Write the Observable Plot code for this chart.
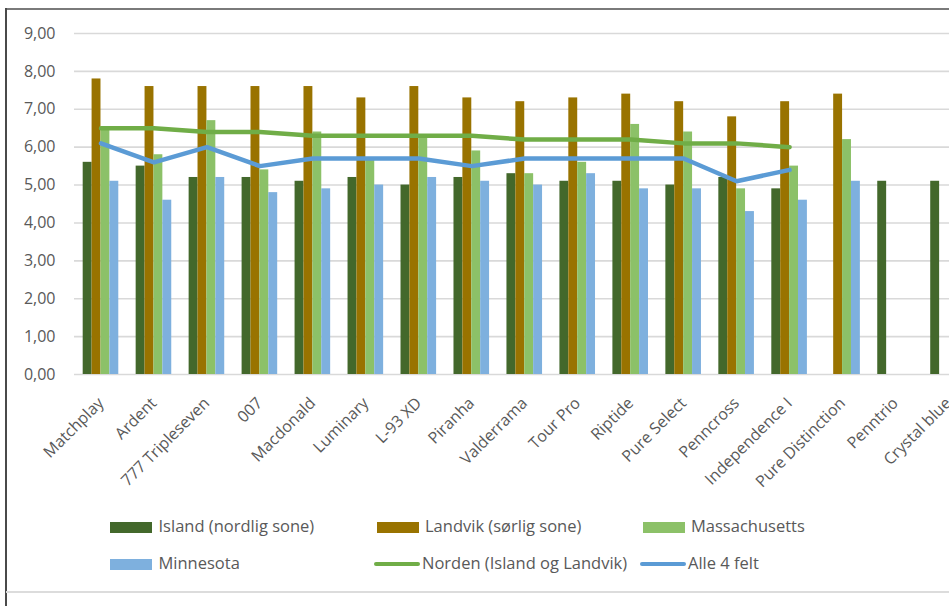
<!DOCTYPE html>
<html>
<head>
<meta charset="utf-8">
<script src="https://cdn.jsdelivr.net/npm/d3@7"></script>
<script src="https://cdn.jsdelivr.net/npm/@observablehq/plot@0.6"></script>
<style>
  html, body { margin: 0; padding: 0; background: #fff; overflow: hidden; width: 949px; height: 606px; }
  #frameTop { position: absolute; left: 5px; top: 8px; width: 1000px; height: 2px; background: #7a7a7a; }
  #frameLeft { position: absolute; left: 5px; top: 8px; width: 1.5px; height: 600px; background: #4a4a4a; }
  #frameBottom { position: absolute; left: 6px; top: 591px; width: 1000px; height: 1.5px; background: #dcdcdc; }
  #chart { position: absolute; left: 0; top: 0; width: 980px; }
  #chart svg { overflow: visible; max-width: none !important; }
  .leg { position: absolute; font-family: "Open Sans", sans-serif; font-size: 16.5px; color: #595959; white-space: nowrap; line-height: 1; }
  .sw { position: absolute; }
</style>
</head>
<body>
<div id="chart"></div>
<div id="legend"></div>
<div id="frameTop"></div>
<div id="frameLeft"></div>
<div id="frameBottom"></div>
<script>
const categories = ["Matchplay","Ardent","777 Tripleseven","007","Macdonald","Luminary","L-93 XD","Piranha","Valderrama","Tour Pro","Riptide","Pure Select","Penncross","Independence I","Pure Distinction","Penntrio","Crystal blue"];
const island        = [5.6,5.5,5.2,5.2,5.1,5.2,5.0,5.2,5.3,5.1,5.1,5.0,5.2,4.9,null,5.1,5.1];
const landvik       = [7.8,7.6,7.6,7.6,7.6,7.3,7.6,7.3,7.2,7.3,7.4,7.2,6.8,7.2,7.4,null,null];
const massachusetts = [6.5,5.8,6.7,5.4,6.4,5.7,6.3,5.9,5.3,5.6,6.6,6.4,4.9,5.5,6.2,null,null];
const minnesota     = [5.1,4.6,5.2,4.8,4.9,5.0,5.2,5.1,5.0,5.3,4.9,4.9,4.3,4.6,5.1,null,null];
const norden        = [6.5,6.5,6.4,6.4,6.3,6.3,6.3,6.3,6.2,6.2,6.2,6.1,6.1,6.0,null,null,null];
const alle4         = [6.1,5.6,6.0,5.5,5.7,5.7,5.7,5.5,5.7,5.7,5.7,5.7,5.1,5.4,null,null,null];
const yTicks = [0,1,2,3,4,5,6,7,8,9];

const barSeries = [
  {name: "Island (nordlig sone)", values: island, color: "#43682b"},
  {name: "Landvik (sørlig sone)", values: landvik, color: "#997300"},
  {name: "Massachusetts", values: massachusetts, color: "#8cc168"},
  {name: "Minnesota", values: minnesota, color: "#7eb0de"}
];
const lineSeries = [
  {name: "Norden (Island og Landvik)", values: norden, color: "#70ad47"},
  {name: "Alle 4 felt", values: alle4, color: "#5b9bd5"}
];

const W = 980, mL = 74, mR = 5.5, H = 500, mT = 33, mB = 126;
const gapFrac = 0.328;                       // Excel gap width as fraction of category step
const step = (W - mL - mR) / categories.length;
const gap = step * gapFrac / 2;              // empty space on each side of a cluster
const q = (step - 2 * gap) / 4;              // width of one bar

const rows = s => categories.map((c, i) => ({cat: c, v: s.values[i]}));

const marks = [
  Plot.ruleY(yTicks, {stroke: "#d9d9d9", strokeWidth: 1.6})
];
barSeries.forEach((s, k) => {
  marks.push(Plot.barY(rows(s).filter(d => d.v != null), {
    x: "cat", y: "v", fill: s.color,
    insetLeft: gap + k * q, insetRight: gap + (3 - k) * q
  }));
});
lineSeries.forEach(s => {
  marks.push(Plot.lineY(rows(s).filter(d => d.v != null), {
    x: "cat", y: "v", stroke: s.color, strokeWidth: 4.5,
    strokeLinejoin: "round", strokeLinecap: "round"
  }));
});

const fmt = d3.format(".2f");
const chart = Plot.plot({
  width: W, height: H,
  marginLeft: mL, marginRight: mR, marginTop: mT, marginBottom: mB,
  style: {fontFamily: "Open Sans, sans-serif", fontSize: "16px", color: "#595959", background: "transparent", maxWidth: "none"},
  x: {type: "band", domain: categories, padding: 0, round: false,
      tickSize: 0, tickPadding: 26, tickRotate: -45, label: null},
  y: {domain: [0, 9], ticks: yTicks, tickSize: 0, tickPadding: 19,
      tickFormat: d => fmt(d).replace(".", ","), label: null},
  marks
});
document.getElementById("chart").appendChild(chart);

// Legend (HTML, positioned below the plot)
const legend = document.getElementById("legend");
const items = [
  {s: barSeries[0], kind: "rect", x: 110, row: 0},
  {s: barSeries[1], kind: "rect", x: 376.5, row: 0},
  {s: barSeries[2], kind: "rect", x: 642.5, row: 0},
  {s: barSeries[3], kind: "rect", x: 110, row: 1},
  {s: lineSeries[0], kind: "line", x: 374, row: 1},
  {s: lineSeries[1], kind: "line", x: 640, row: 1}
];
const rowY = [527.2, 564.3];
items.forEach(it => {
  const sw = document.createElement("div");
  sw.className = "sw";
  if (it.kind === "rect") {
    sw.style.left = it.x + "px"; sw.style.top = (rowY[it.row] - 5.5) + "px";
    sw.style.width = "42px"; sw.style.height = "11px"; sw.style.background = it.s.color;
  } else {
    sw.style.left = it.x + "px"; sw.style.top = (rowY[it.row] - 2.2) + "px";
    sw.style.width = "46px"; sw.style.height = "4.4px"; sw.style.background = it.s.color;
    sw.style.borderRadius = "2.2px";
  }
  legend.appendChild(sw);
  const t = document.createElement("div");
  t.className = "leg";
  t.textContent = it.s.name;
  t.style.left = (it.x + (it.kind === "rect" ? 48.5 : 48)) + "px";
  t.style.top = (rowY[it.row] - 9) + "px";
  legend.appendChild(t);
});
</script>
</body>
</html>
